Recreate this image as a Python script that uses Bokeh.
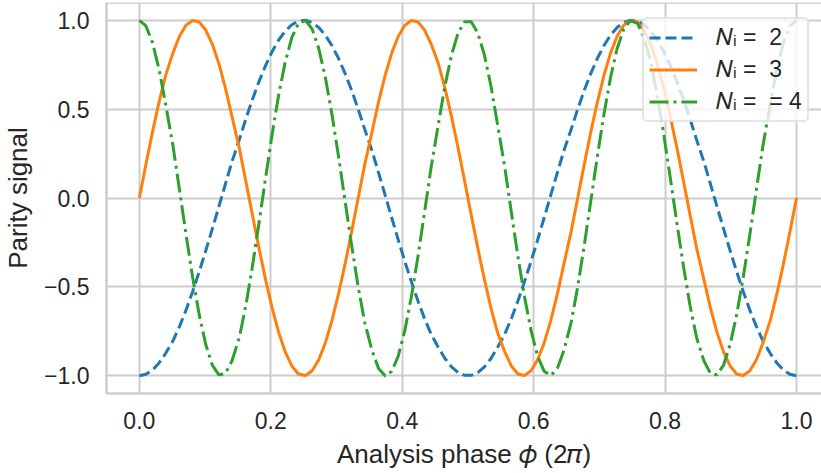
from bokeh.plotting import figure
from bokeh.models import FixedTicker, Span, Legend, LegendItem, Range1d
from bokeh.embed import file_html
from bokeh.resources import INLINE

# analysis phase (units of 2*pi), sampled points
phase = [0.000, 0.010, 0.020, 0.030, 0.040, 0.051, 0.061, 0.071, 0.081, 0.091,
         0.101, 0.111, 0.121, 0.131, 0.141, 0.152, 0.162, 0.172, 0.182, 0.192,
         0.202, 0.212, 0.222, 0.232, 0.242, 0.253, 0.263, 0.273, 0.283, 0.293,
         0.303, 0.313, 0.323, 0.333, 0.343, 0.354, 0.364, 0.374, 0.384, 0.394,
         0.404, 0.414, 0.424, 0.434, 0.444, 0.455, 0.465, 0.475, 0.485, 0.495,
         0.505, 0.515, 0.525, 0.535, 0.545, 0.556, 0.566, 0.576, 0.586, 0.596,
         0.606, 0.616, 0.626, 0.636, 0.646, 0.657, 0.667, 0.677, 0.687, 0.697,
         0.707, 0.717, 0.727, 0.737, 0.747, 0.758, 0.768, 0.778, 0.788, 0.798,
         0.808, 0.818, 0.828, 0.838, 0.848, 0.859, 0.869, 0.879, 0.889, 0.899,
         0.909, 0.919, 0.929, 0.939, 0.949, 0.960, 0.970, 0.980, 0.990, 1.000]

parity_n2 = [-1.000, -0.992, -0.968, -0.928, -0.874, -0.805, -0.724, -0.631, -0.527, -0.415,
             -0.297, -0.174, -0.048, 0.079, 0.205, 0.327, 0.444, 0.554, 0.655, 0.745,
             0.824, 0.889, 0.940, 0.975, 0.995, 1.000, 0.987, 0.959, 0.916, 0.858,
             0.786, 0.701, 0.606, 0.500, 0.386, 0.266, 0.142, 0.016, -0.111, -0.236,
             -0.357, -0.472, -0.580, -0.679, -0.766, -0.841, -0.903, -0.950, -0.982, -0.998,
             -0.998, -0.982, -0.950, -0.903, -0.841, -0.766, -0.679, -0.580, -0.472, -0.357,
             -0.236, -0.111, 0.016, 0.142, 0.266, 0.386, 0.500, 0.606, 0.701, 0.786,
             0.858, 0.916, 0.959, 0.987, 1.000, 0.995, 0.975, 0.940, 0.889, 0.824,
             0.745, 0.655, 0.554, 0.444, 0.327, 0.205, 0.079, -0.048, -0.174, -0.297,
             -0.415, -0.527, -0.631, -0.724, -0.805, -0.874, -0.928, -0.968, -0.992, -1.000]

parity_n3 = [0.000, 0.189, 0.372, 0.541, 0.690, 0.815, 0.910, 0.972, 0.999, 0.990,
             0.945, 0.866, 0.756, 0.618, 0.458, 0.282, 0.095, -0.095, -0.282, -0.458,
             -0.618, -0.756, -0.866, -0.945, -0.990, -0.999, -0.972, -0.910, -0.815, -0.690,
             -0.541, -0.372, -0.189, 0.000, 0.189, 0.372, 0.541, 0.690, 0.815, 0.910,
             0.972, 0.999, 0.990, 0.945, 0.866, 0.756, 0.618, 0.458, 0.282, 0.095,
             -0.095, -0.282, -0.458, -0.618, -0.756, -0.866, -0.945, -0.990, -0.999, -0.972,
             -0.910, -0.815, -0.690, -0.541, -0.372, -0.189, 0.000, 0.189, 0.372, 0.541,
             0.690, 0.815, 0.910, 0.972, 0.999, 0.990, 0.945, 0.866, 0.756, 0.618,
             0.458, 0.282, 0.095, -0.095, -0.282, -0.458, -0.618, -0.756, -0.866, -0.945,
             -0.990, -0.999, -0.972, -0.910, -0.815, -0.690, -0.541, -0.372, -0.189, 0.000]

parity_n4 = [1.000, 0.968, 0.874, 0.724, 0.527, 0.297, 0.048, -0.205, -0.444, -0.655,
             -0.824, -0.940, -0.995, -0.987, -0.916, -0.786, -0.606, -0.386, -0.142, 0.111,
             0.357, 0.580, 0.766, 0.903, 0.982, 0.998, 0.950, 0.841, 0.679, 0.472,
             0.236, -0.016, -0.266, -0.500, -0.701, -0.858, -0.959, -1.000, -0.975, -0.889,
             -0.745, -0.554, -0.327, -0.079, 0.174, 0.415, 0.631, 0.805, 0.928, 0.992,
             0.992, 0.928, 0.805, 0.631, 0.415, 0.174, -0.079, -0.327, -0.554, -0.745,
             -0.889, -0.975, -1.000, -0.959, -0.858, -0.701, -0.500, -0.266, -0.016, 0.236,
             0.472, 0.679, 0.841, 0.950, 0.998, 0.982, 0.903, 0.766, 0.580, 0.357,
             0.111, -0.142, -0.386, -0.606, -0.786, -0.916, -0.987, -0.995, -0.940, -0.824,
             -0.655, -0.444, -0.205, 0.048, 0.297, 0.527, 0.724, 0.874, 0.968, 1.000]

series_labels = ["\U0001D441\u1D62 =  2", "\U0001D441\u1D62 =  3", "\U0001D441\u1D62 =  = 4"]
x_ticks = [0.0, 0.2, 0.4, 0.6, 0.8, 1.0]
x_tick_labels = ["0.0", "0.2", "0.4", "0.6", "0.8", "1.0"]
y_ticks = [-1.0, -0.5, 0.0, 0.5, 1.0]
y_tick_labels = ["\u22121.0", "\u22120.5", "0.0", "0.5", "1.0"]
x_label = "Analysis phase \U0001D719 (2\U0001D70B)"
y_label = "Parity signal"

FONT = "Liberation Sans"
TXT = "#262626"
GRIDC = "#cccccc"

p = figure(width=821, height=473, output_backend="svg", toolbar_location=None,
           x_range=Range1d(-0.05, 1.038), y_range=Range1d(-1.1, 1.1),
           min_border_left=104, min_border_right=0, min_border_top=2, min_border_bottom=80)
p.background_fill_color = "white"
p.border_fill_color = "white"
p.outline_line_color = None

r2 = p.line(phase, parity_n2, line_color="#1f77b4", line_width=3, line_dash="11 5", line_join="round")
r3 = p.line(phase, parity_n3, line_color="#ff7f0e", line_width=3, line_join="round")
r4 = p.line(phase, parity_n4, line_color="#2ca02c", line_width=3, line_dash="19 5 3 5", line_join="round")

p.xaxis.ticker = FixedTicker(ticks=x_ticks)
p.yaxis.ticker = FixedTicker(ticks=y_ticks)
p.xaxis.major_label_overrides = dict(zip(x_ticks, x_tick_labels))
p.yaxis.major_label_overrides = dict(zip(y_ticks, y_tick_labels))
p.xaxis.axis_label = x_label
p.yaxis.axis_label = y_label

for ax in (p.xaxis, p.yaxis):
    ax.axis_line_color = GRIDC
    ax.axis_line_width = 2.5
    ax.major_tick_line_color = None
    ax.minor_tick_line_color = None
    ax.major_tick_out = 0
    ax.major_tick_in = 0
    ax.minor_tick_out = 0
    ax.major_label_text_font = FONT
    ax.major_label_text_font_size = "23px"
    ax.major_label_text_color = TXT
    ax.axis_label_text_font = FONT
    ax.axis_label_text_font_size = "26px"
    ax.axis_label_text_font_style = "normal"
    ax.axis_label_text_color = TXT

p.xaxis.major_label_standoff = 18
p.xaxis.axis_label_standoff = 7
p.yaxis.major_label_standoff = 17
p.yaxis.axis_label_standoff = 8

for g in (p.xgrid, p.ygrid):
    g.grid_line_color = GRIDC
    g.grid_line_width = 2

p.add_layout(Span(location=1.1, dimension="width", line_color=GRIDC, line_width=2.5))

legend = Legend(
    items=[LegendItem(label=series_labels[0], renderers=[r2]),
           LegendItem(label=series_labels[1], renderers=[r3]),
           LegendItem(label=series_labels[2], renderers=[r4])],
    location=(536, 271), margin=0, padding=5, spacing=5,
    glyph_width=48, glyph_height=25, label_height=25, label_standoff=19,
    label_text_font=FONT, label_text_font_size="23px", label_text_color=TXT,
    border_line_color=GRIDC, border_line_width=2,
    background_fill_color="white", background_fill_alpha=0.8,
)
if "border_radius" in Legend.properties():
    legend.border_radius = 5
p.add_layout(legend)

open("out.html", "w").write(file_html(p, INLINE))
